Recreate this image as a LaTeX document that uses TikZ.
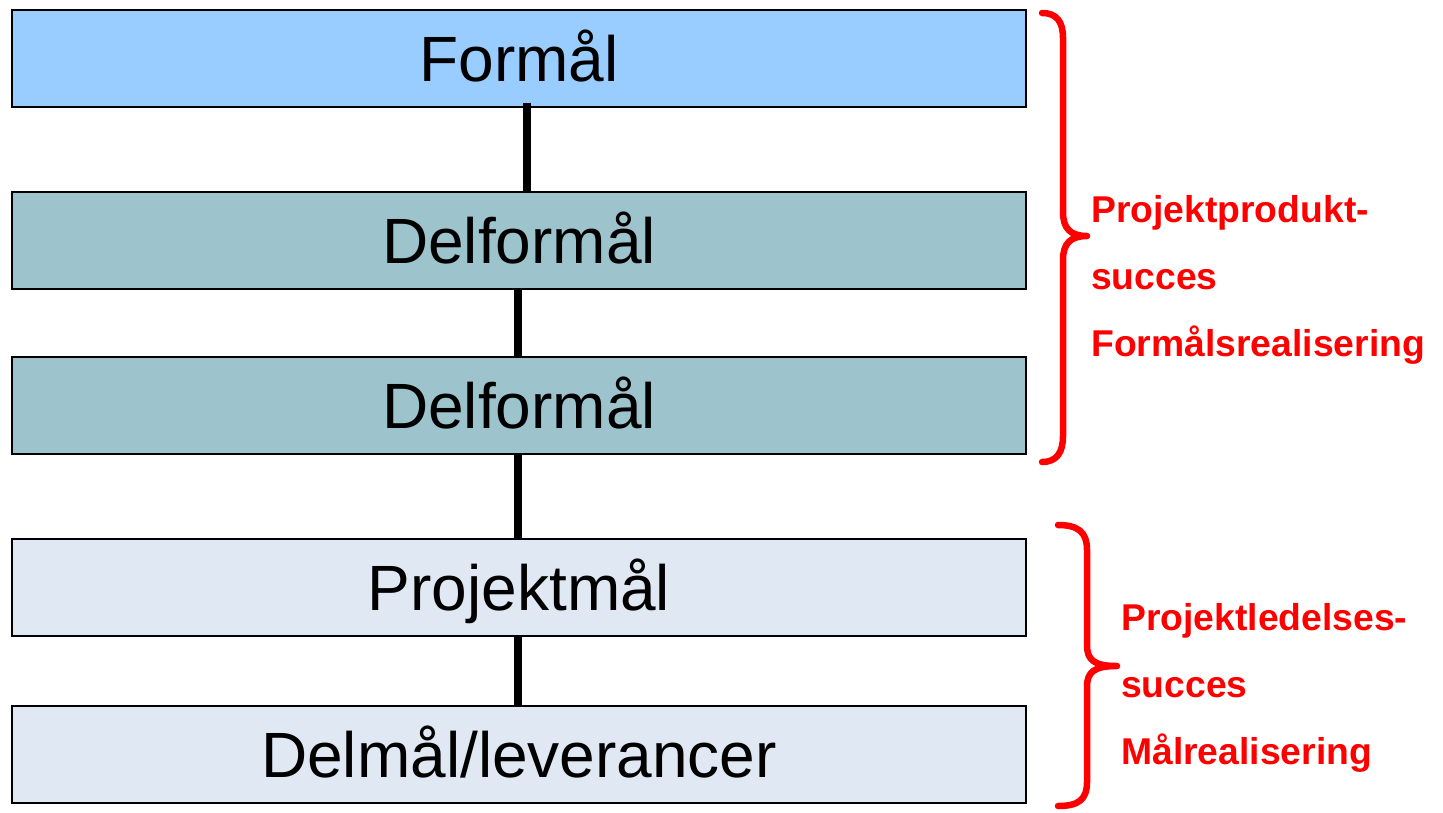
\documentclass[tikz,border=0pt]{standalone}
\usepackage{fontspec}
\setmainfont{Liberation Sans}
\definecolor{goalblue}{RGB}{153,204,255}
\definecolor{subteal}{RGB}{157,196,204}
\definecolor{paleblue}{RGB}{223,232,243}
\definecolor{markred}{RGB}{255,0,0}
\begin{document}
\begin{tikzpicture}[x=1pt,y=-1pt,
  level/.style={draw=black,line width=2pt,rectangle,inner sep=0pt,
    minimum width=1014pt,minimum height=97pt,
    font=\fontsize{64}{70}\selectfont,text height=46pt,text depth=0pt},
  link/.style={line width=7.5pt,black},
  brace/.style={markred,line width=6.5pt,line cap=round,line join=round},
  note/.style={anchor=base west,inner sep=0pt,text=markred,
    font=\fontsize{37.3}{40}\bfseries\selectfont}]
\useasboundingbox (0,0) rectangle (1443,812);

% goal hierarchy
\node[level,fill=goalblue] (formaal) at (519,58) {Formål};
\node[level,fill=subteal] (delA) at (519,240) {Delformål};
\node[level,fill=subteal] (delB) at (519,405.5) {Delformål};
\node[level,fill=paleblue] (projekt) at (519,587.5) {Projektmål};
\node[level,fill=paleblue] (delmaal) at (519,754) {Delmål/leverancer};

% vertical links between levels
\draw[link] ([xshift=8pt,yshift=5pt]formaal.south) -- ([xshift=8pt]delA.north);
\draw[link] ([xshift=-1pt]delA.south) -- ([xshift=-1pt]delB.north);
\draw[link] ([xshift=-1pt]delB.south) -- ([xshift=-1pt]projekt.north);
\draw[link] ([xshift=-1pt]projekt.south) -- ([xshift=-1pt]delmaal.north);

% upper brace
\draw[brace] (1042,13) .. controls (1057,13) and (1063,22) .. (1063,38)
  -- (1063,212) .. controls (1063,228) and (1070,236) .. (1087,236)
  .. controls (1070,236) and (1063,244) .. (1063,260)
  -- (1063,436) .. controls (1063,452) and (1057,462) .. (1042,462);
% lower brace
\draw[brace] (1058,525) .. controls (1078,525) and (1087,532) .. (1087,550)
  -- (1087,645) .. controls (1087,660) and (1094,666) .. (1117,666)
  .. controls (1094,666) and (1087,672) .. (1087,687)
  -- (1087,782) .. controls (1087,800) and (1078,806) .. (1058,806);

% brace labels
\node[note] (pp1) at (1091,222) {Projektprodukt-};
\node[note] (pp2) at (1091,289) {succes};
\node[note] (pp3) at (1091,356) {Formålsrealisering};
\node[note] (pl1) at (1121,630) {Projektledelses-};
\node[note] (pl2) at (1121,697) {succes};
\node[note] (pl3) at (1121,764) {Målrealisering};
\end{tikzpicture}
\end{document}
